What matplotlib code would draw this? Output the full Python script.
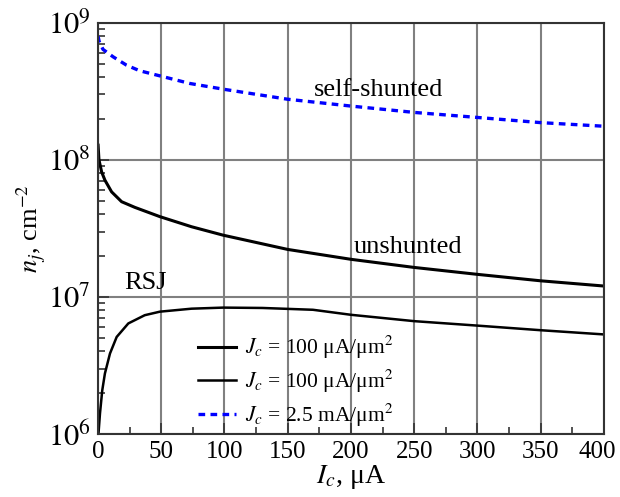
import matplotlib
matplotlib.use("Agg")
import matplotlib.pyplot as plt
import matplotlib.transforms as mtransforms
from matplotlib.ticker import LogLocator, MultipleLocator, NullFormatter

plt.rcParams['font.family'] = ['Liberation Serif', 'DejaVu Serif']
plt.rcParams['mathtext.fontset'] = 'stix'

# self-shunted, Jc = 2.5 mA/um^2
ic_self = [0, 1, 4, 12, 22.6, 33, 50, 72.7, 100, 150, 200, 250, 300, 350, 400]
nj_self = [8.0e8, 7.3e8, 6.4e8, 5.65e8, 4.91e8, 4.47e8, 4.08e8, 3.61e8, 3.27e8,
           2.77e8, 2.47e8, 2.22e8, 2.04e8, 1.87e8, 1.76e8]

# unshunted, Jc = 100 uA/um^2
ic_un = [0.1, 0.8, 2.9, 5.5, 10.8, 18.7, 29.2, 49, 74, 99, 150, 200, 250,
         300, 350, 400]
nj_un = [1.28e8, 1.0e8, 8.17e7, 7.11e7, 5.84e7, 4.95e7, 4.5e7, 3.85e7, 3.25e7,
         2.82e7, 2.22e7, 1.88e7, 1.64e7, 1.46e7, 1.31e7, 1.2e7]

# RSJ, Jc = 100 uA/um^2
ic_rsj = [0.4, 1.6, 3.4, 5.5, 9.5, 14.8, 24, 37, 49, 74, 99, 130, 170, 200,
          250, 300, 350, 400]
nj_rsj = [1.0e6, 1.41e6, 2.08e6, 2.76e6, 3.86e6, 5.1e6, 6.4e6, 7.35e6, 7.8e6,
          8.2e6, 8.35e6, 8.3e6, 8.05e6, 7.4e6, 6.65e6, 6.17e6, 5.71e6, 5.32e6]

x_ticks = [0, 50, 100, 150, 200, 250, 300, 350, 400]
y_ticks = [1e6, 1e7, 1e8, 1e9]
y_ticklabels = [r'$10^6$', r'$10^7$', r'$10^8$', r'$10^9$']

fig = plt.figure(figsize=(6.2, 4.97), dpi=100)
ax = fig.add_axes([0.158, 0.127, 0.816, 0.827])

ax.plot(ic_un, nj_un, color='black', lw=2.2,
        label=r'$J_c$ = 100 μA/μm$^2$')
ax.plot(ic_rsj, nj_rsj, color='black', lw=1.8,
        label=r'$J_c$ = 100 μA/μm$^2$')
ax.plot(ic_self, nj_self, color='blue', lw=2.4, ls=(0, (2, 1.6)),
        label=r'$J_c$ = 2.5 mA/μm$^2$')

ax.set_yscale('log')
ax.set_xlim(0, 400)
ax.set_ylim(1e6, 1e9)
ax.set_xticks(x_ticks)
ax.xaxis.set_minor_locator(MultipleLocator(25))
ax.yaxis.set_minor_locator(LogLocator(base=10, subs=range(2, 10), numticks=10))
ax.yaxis.set_minor_formatter(NullFormatter())
ax.set_yticks(y_ticks)
ax.set_yticklabels(y_ticklabels, fontsize=22)

ax.grid(True, which='major', color='#808080', lw=1.5)
ax.set_axisbelow(True)
ax.tick_params(which='both', direction='in', top=False, right=False,
               width=1.2, color='#333333')
ax.tick_params(axis='x', labelsize=18)
ax.tick_params(which='major', length=8, pad=5)
ax.tick_params(which='minor', length=5)
for s in ax.spines.values():
    s.set_linewidth(1.5)
    s.set_color('#333333')

# nudge the last x label so it stays inside the figure
last = ax.xaxis.get_major_ticks()[-1].label1
last.set_transform(last.get_transform() +
                   mtransforms.ScaledTranslation(-5 / 72, 0, fig.dpi_scale_trans))

ax.set_xlabel(r'$I_c$, μA', fontsize=20, labelpad=0)
ax.set_ylabel(r'$n_j$, cm$^{-2}$', fontsize=19, labelpad=0)

ax.text(171, 3.23e8, 'self-shunted', fontsize=19, va='center')
ax.text(202, 2.32e7, 'unshunted', fontsize=19, va='center')
ax.text(21, 1.26e7, 'RSJ', fontsize=19, va='center')

ax.legend(loc='lower left', bbox_to_anchor=(0.305, 0.12), bbox_transform=fig.transFigure,
          frameon=False, fontsize=15.5, handlelength=1.8, handletextpad=0.4,
          labelspacing=0.3, borderaxespad=0)

fig.savefig('out.png', dpi=100)
